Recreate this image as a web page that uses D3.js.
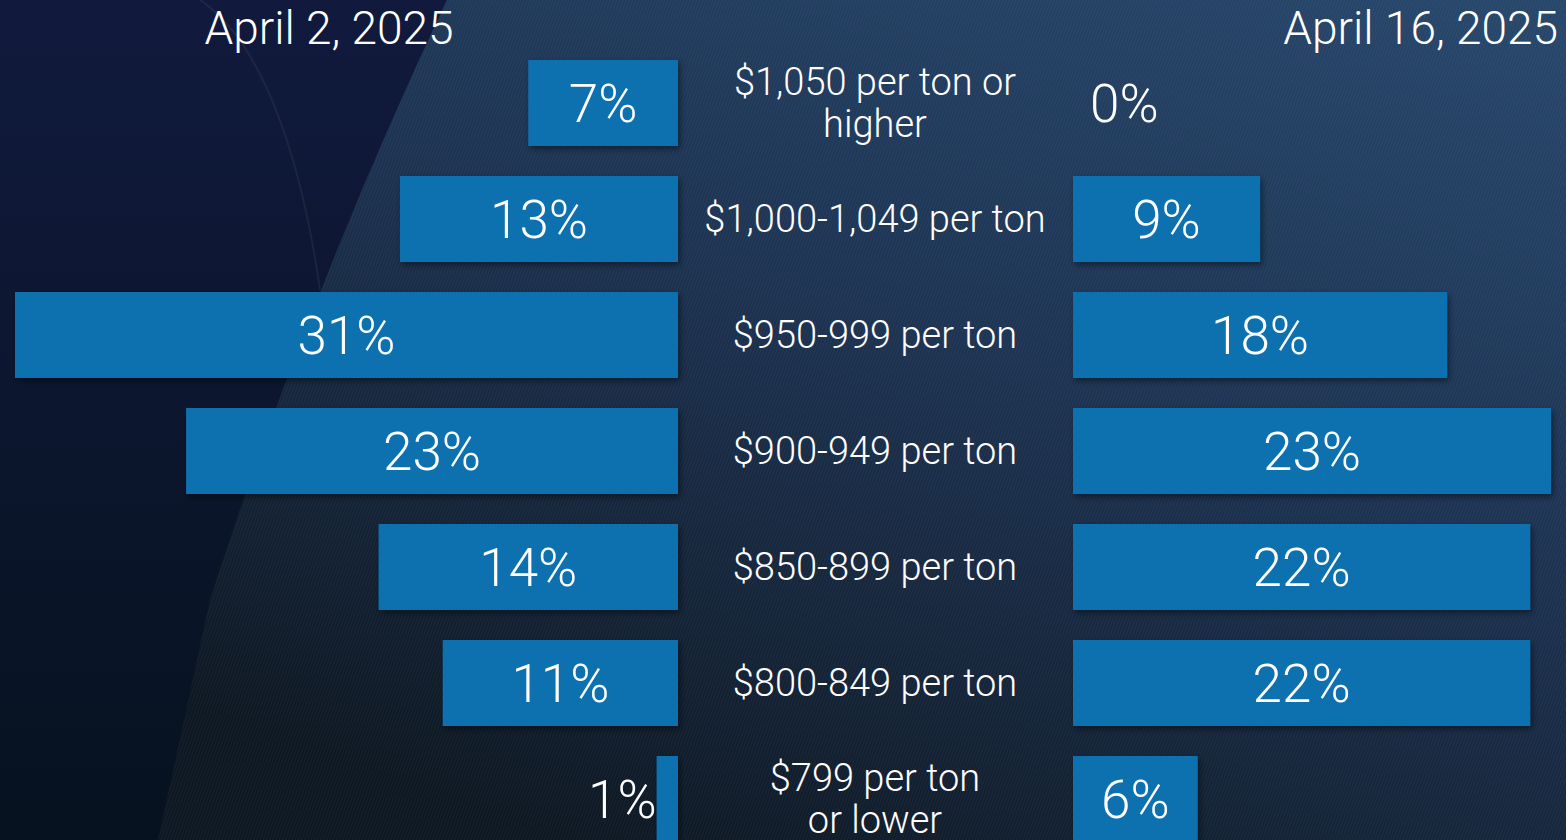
<!DOCTYPE html>
<meta charset="utf-8">
<style>
  body { margin: 0; background: #0b1630; }
  text { font-family: "Roboto", "Liberation Sans", sans-serif; font-weight: 300; fill: #fff; }
</style>
<body>
<svg width="1566" height="840"></svg>
<script src="https://d3js.org/d3.v7.min.js"></script>
<script>

    // price buckets, top to bottom
    var categories = [
        ["$1,050 per ton or", "higher"],
        ["$1,000-1,049 per ton"],
        ["$950-999 per ton"],
        ["$900-949 per ton"],
        ["$850-899 per ton"],
        ["$800-849 per ton"],
        ["$799 per ton", "or lower"]
    ];
    var april2 = [7, 13, 31, 23, 14, 11, 1];
    var april16 = [0, 9, 18, 23, 22, 22, 6];
    var titles = ["April 2, 2025", "April 16, 2025"];

    var svg = d3.select("svg");
    var width = +svg.attr("width"), height = +svg.attr("height");

    var defs = svg.append("defs");

    // background gradients
    var gLeft = defs.append("linearGradient").attr("id", "bgLeft")
        .attr("x1", 0).attr("y1", 0).attr("x2", 0).attr("y2", 1);
    gLeft.append("stop").attr("offset", 0).attr("stop-color", "#111a3d");
    gLeft.append("stop").attr("offset", 1).attr("stop-color", "#06121f");

    var gRight = defs.append("linearGradient").attr("id", "bgRight")
        .attr("x1", 0.9).attr("y1", 0).attr("x2", 0.3).attr("y2", 1);
    gRight.append("stop").attr("offset", 0).attr("stop-color", "#26466a");
    gRight.append("stop").attr("offset", 0.45).attr("stop-color", "#1d3352");
    gRight.append("stop").attr("offset", 1).attr("stop-color", "#0e1823");

    // fine diagonal texture
    var pat = defs.append("pattern").attr("id", "texture")
        .attr("patternUnits", "userSpaceOnUse")
        .attr("width", 3).attr("height", 3)
        .attr("patternTransform", "rotate(20)");
    pat.append("line").attr("x1", 0).attr("y1", 0).attr("x2", 0).attr("y2", 3)
        .attr("stroke", "#ffffff").attr("stroke-opacity", 0.07).attr("stroke-width", 1);

    var shadow = defs.append("filter").attr("id", "shadow")
        .attr("x", "-10%").attr("y", "-20%").attr("width", "130%").attr("height", "150%");
    shadow.append("feDropShadow").attr("dx", 2).attr("dy", 3).attr("stdDeviation", 3)
        .attr("flood-color", "#000").attr("flood-opacity", 0.45);

    svg.append("rect").attr("width", width).attr("height", height).attr("fill", "url(#bgLeft)");

    var edge = "M447,0 C395,110 300,320 210,600 L158,840 L" + width + ",840 L" + width + ",0 Z";
    svg.append("path").attr("d", edge).attr("fill", "url(#bgRight)");
    svg.append("path").attr("d", edge).attr("fill", "url(#texture)");

    // faint arc on the left
    svg.append("path")
        .attr("d", "M200,0 C260,40 300,150 320,290")
        .attr("fill", "none").attr("stroke", "#ffffff").attr("stroke-opacity", 0.06).attr("stroke-width", 2);

    // layout
    var leftEdge = 678, rightEdge = 1073, labelX = 875;

    var y = d3.scaleBand()
        .domain(d3.range(categories.length))
        .range([60, 60 + 116 * categories.length - 30])
        .paddingInner(30 / 116)
        .paddingOuter(0);

    var xLeft = d3.scaleLinear().domain([0, 31]).range([0, 663]);
    var xRight = d3.scaleLinear().domain([0, 23]).range([0, 478]);

    var barColor = "#0f71b0";

    // left bars
    svg.append("g").selectAll("rect")
        .data(april2).enter().append("rect")
        .attr("x", function (d) { return leftEdge - xLeft(d); })
        .attr("y", function (d, i) { return y(i); })
        .attr("width", function (d) { return xLeft(d); })
        .attr("height", y.bandwidth())
        .attr("fill", barColor)
        .attr("filter", "url(#shadow)");

    // right bars
    svg.append("g").selectAll("rect")
        .data(april16).enter().append("rect")
        .attr("x", rightEdge)
        .attr("y", function (d, i) { return y(i); })
        .attr("width", function (d) { return xRight(d); })
        .attr("height", y.bandwidth())
        .attr("fill", barColor)
        .attr("filter", function (d) { return d > 0 ? "url(#shadow)" : null; });

    // value labels, small bars get the label outside
    svg.append("g").selectAll("text")
        .data(april2).enter().append("text")
        .attr("x", function (d) {
            var w = xLeft(d);
            return w < 60 ? leftEdge - w : leftEdge - w / 2;
        })
        .attr("y", function (d, i) { return y(i) + y.bandwidth() / 2 + 19; })
        .attr("text-anchor", function (d) { return xLeft(d) < 60 ? "end" : "middle"; })
        .style("font-size", "53px")
        .text(function (d) { return d + "%"; });

    svg.append("g").selectAll("text")
        .data(april16).enter().append("text")
        .attr("x", function (d) {
            var w = xRight(d);
            return w < 60 ? rightEdge + 17 : rightEdge + w / 2;
        })
        .attr("y", function (d, i) { return y(i) + y.bandwidth() / 2 + 19; })
        .attr("text-anchor", function (d) { return xRight(d) < 60 ? "start" : "middle"; })
        .style("font-size", "53px")
        .text(function (d) { return d + "%"; });

    // category labels in the middle
    var cat = svg.append("g").selectAll("text")
        .data(categories).enter().append("text")
        .attr("text-anchor", "middle")
        .style("font-size", "38px")
        .attr("y", function (d, i) {
            return y(i) + y.bandwidth() / 2 + 13 - (d.length - 1) * 21;
        });
    cat.selectAll("tspan")
        .data(function (d) { return d; }).enter().append("tspan")
        .attr("x", labelX)
        .attr("dy", function (d, i) { return i === 0 ? 0 : 42; })
        .text(function (d) { return d; });

    // column titles
    svg.append("text").attr("x", 329).attr("y", 44)
        .attr("text-anchor", "middle").style("font-size", "46px").text(titles[0]);
    svg.append("text").attr("x", 1558).attr("y", 44)
        .attr("text-anchor", "end").style("font-size", "46px").text(titles[1]);

</script>
</body>
